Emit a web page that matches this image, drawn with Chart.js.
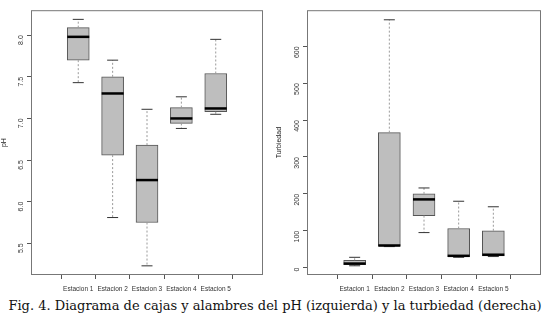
<!DOCTYPE html>
<html>
<head>
<meta charset="utf-8">
<script src="https://cdn.jsdelivr.net/npm/chart.js@4"></script>
<style>
  html, body { margin: 0; padding: 0; background: #fff; }
  #wrap { position: relative; width: 550px; height: 318px; }
  .box { position: absolute; top: 0; width: 275px; height: 295px; }
  #caption {
    position: absolute; left: 0; top: 298px; width: 550px; text-align: center;
    font-family: "DejaVu Serif", serif; font-size: 13px; color: #111; white-space: nowrap;
  }
</style>
</head>
<body>
<div id="wrap">
  <div class="box" style="left:0"><canvas id="grafPh" width="275" height="295"></canvas></div>
  <div class="box" style="left:275px"><canvas id="grafTurb" width="275" height="295"></canvas></div>
  <div id="caption">Fig. 4. Diagrama de cajas y alambres del pH (izquierda) y la turbiedad (derecha)</div>
</div>
<script>
// datos
const estaciones = ['Estacion 1', 'Estacion 2', 'Estacion 3', 'Estacion 4', 'Estacion 5'];

const phMin = [7.43, 5.81, 5.23, 6.88, 7.05];
const phQ1  = [7.70, 6.56, 5.75, 6.94, 7.08];
const phMed = [7.98, 7.30, 6.26, 7.00, 7.12];
const phQ3  = [8.09, 7.50, 6.68, 7.13, 7.54];
const phMax = [8.19, 7.70, 7.11, 7.26, 7.95];

const turbMin = [5, 57, 95, 28, 30];
const turbQ1  = [8, 58, 141, 30, 32];
const turbMed = [11, 60, 185, 32, 35];
const turbQ3  = [20, 366, 200, 106, 100];
const turbMax = [28, 672, 216, 180, 165];

// dibuja bigotes, medianas y el marco (estilo R)
const cajasPlugin = {
  id: 'cajas',
  afterDatasetsDraw(chart, args, opts) {
    const { ctx, chartArea, scales } = chart;
    const meta = chart.getDatasetMeta(0);
    ctx.save();
    opts.min.forEach((v, i) => {
      const x = scales.x.getPixelForValue(i + 1);
      const half = meta.data[i].width / 2;
      const yMin = scales.y.getPixelForValue(v);
      const yMax = scales.y.getPixelForValue(opts.max[i]);
      const yQ1 = scales.y.getPixelForValue(opts.q1[i]);
      const yQ3 = scales.y.getPixelForValue(opts.q3[i]);
      const yMed = scales.y.getPixelForValue(opts.med[i]);
      // bigotes punteados
      ctx.strokeStyle = '#9a9a9a';
      ctx.lineWidth = 1;
      ctx.setLineDash([2, 2]);
      ctx.beginPath();
      ctx.moveTo(x, yQ3); ctx.lineTo(x, yMax);
      ctx.moveTo(x, yQ1); ctx.lineTo(x, yMin);
      ctx.stroke();
      ctx.setLineDash([]);
      // topes
      ctx.strokeStyle = '#333';
      ctx.beginPath();
      ctx.moveTo(x - half / 2, yMax); ctx.lineTo(x + half / 2, yMax);
      ctx.moveTo(x - half / 2, yMin); ctx.lineTo(x + half / 2, yMin);
      ctx.stroke();
      // mediana
      ctx.strokeStyle = '#000';
      ctx.lineWidth = 2.5;
      ctx.beginPath();
      ctx.moveTo(x - half, yMed); ctx.lineTo(x + half, yMed);
      ctx.stroke();
    });
    // marco
    ctx.strokeStyle = '#777';
    ctx.lineWidth = 1;
    ctx.strokeRect(chartArea.left + 0.5, chartArea.top + 0.5,
      chartArea.right - chartArea.left - 1, chartArea.bottom - chartArea.top - 1);
    ctx.restore();
  }
};

function crearBoxplot(id, titulo, min, q1, med, q3, max, yMin, yMax, paso, decimales, anchoEje, padDer) {
  const ctx = document.getElementById(id).getContext('2d');
  return new Chart(ctx, {
    type: 'bar',
    data: {
      datasets: [{
        data: estaciones.map((e, i) => ({ x: i + 1, y: [q1[i], q3[i]] })),
        backgroundColor: '#bebebe',
        borderColor: '#555',
        borderWidth: 1,
        borderSkipped: false,
        barThickness: 22
      }]
    },
    plugins: [cajasPlugin],
    options: {
      responsive: false,
      animation: false,
      layout: { padding: { top: 8, right: padDer, left: 0, bottom: 0 } },
      plugins: {
        legend: { display: false },
        tooltip: { enabled: false },
        cajas: { min: min, q1: q1, med: med, q3: q3, max: max }
      },
      scales: {
        x: {
          type: 'linear', min: 0.3, max: 5.7,
          afterBuildTicks: (s) => { s.ticks = estaciones.map((e, i) => ({ value: i + 1 })); },
          afterFit: (s) => { s.height = 20; },
          grid: { drawOnChartArea: false, drawTicks: true, tickLength: 4, color: '#555' },
          border: { display: false },
          ticks: {
            callback: (v) => estaciones[v - 1],
            font: { family: 'Liberation Sans', size: 6.5 }, color: '#333',
            padding: 6, maxRotation: 0, autoSkip: false
          }
        },
        y: {
          min: yMin, max: yMax,
          afterFit: (s) => { s.width = anchoEje; },
          grid: { drawOnChartArea: false, drawTicks: true, tickLength: 4, color: '#555' },
          border: { display: false },
          title: { display: true, text: titulo, font: { family: 'Liberation Sans', size: 7 }, color: '#222', padding: 0 },
          ticks: {
            stepSize: paso, includeBounds: false,
            minRotation: 90, maxRotation: 90,
            callback: (v) => v.toFixed(decimales),
            font: { family: 'Liberation Sans', size: 7 }, color: '#333', padding: 6
          }
        }
      }
    }
  });
}

crearBoxplot('grafPh', 'pH', phMin, phQ1, phMed, phQ3, phMax, 5.12, 8.30, 0.5, 1, 31, 12);
crearBoxplot('grafTurb', 'Turbiedad', turbMin, turbQ1, turbMed, turbQ3, turbMax, -20, 698, 100, 0, 32, 9);
</script>
</body>
</html>
